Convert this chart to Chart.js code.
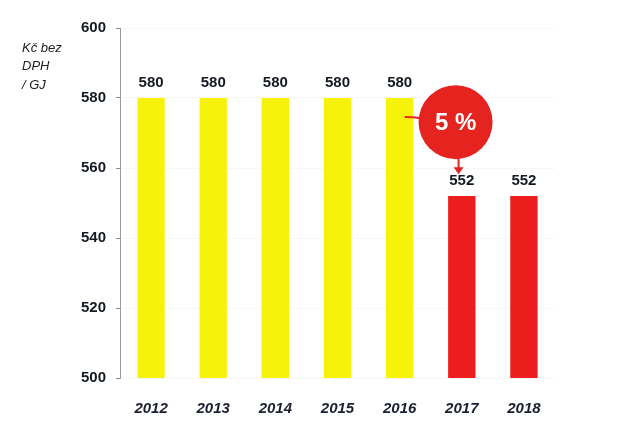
<!DOCTYPE html>
<html>
<head>
<meta charset="utf-8">
<script src="https://cdn.jsdelivr.net/npm/chart.js@4"></script>
<style>
  html, body { margin: 0; padding: 0; background: #fff; }
  .wrap { width: 640px; height: 443px; position: relative; }
</style>
</head>
<body>
<div class="wrap"><canvas id="cena"></canvas></div>
<script>
// data
const years = ['2012', '2013', '2014', '2015', '2016', '2017', '2018'];
const prices = [580, 580, 580, 580, 580, 552, 552];
const barColors = ['#f7f20a', '#f7f20a', '#f7f20a', '#f7f20a', '#f7f20a', '#ec1d1d', '#ec1d1d'];
const yTicks = [500, 520, 540, 560, 580, 600];
const unitLines = ['Kč bez', 'DPH', '/ GJ'];
const dropLabel = '5 %';

// labels above bars + the red "5 %" bubble
const overlay = {
  id: 'overlay',
  afterDatasetsDraw(chart) {
    const ctx = chart.ctx;
    const xs = chart.scales.x, ys = chart.scales.y;
    const meta = chart.getDatasetMeta(0);

    ctx.save();
    ctx.fillStyle = '#141a22';
    ctx.font = 'bold 15px "Liberation Sans", Arial, sans-serif';
    ctx.textAlign = 'center';
    ctx.textBaseline = 'bottom';
    meta.data.forEach((bar, i) => {
      ctx.fillText(String(prices[i]), bar.x, bar.y - 8);
    });

    // unit title
    ctx.fillStyle = '#1c1c1c';
    ctx.font = 'italic 13px "Liberation Sans", Arial, sans-serif';
    ctx.textAlign = 'left';
    ctx.textBaseline = 'middle';
    unitLines.forEach((t, i) => ctx.fillText(t, 22, 48 + i * 18.5));

    // bubble
    const cx = xs.getPixelForValue(4.9);
    const cy = ys.getPixelForValue(573.1);
    const r = 37;
    const red = '#e52420';
    ctx.strokeStyle = red;
    ctx.fillStyle = red;
    ctx.lineWidth = 2;
    // connector from 2016 bar
    const b16 = meta.data[4];
    ctx.beginPath();
    ctx.moveTo(b16.x + 5, ys.getPixelForValue(574.6));
    ctx.quadraticCurveTo(cx - r + 4, ys.getPixelForValue(574.6), cx - r + 2, cy - 2);
    ctx.stroke();
    // arrow down
    const ax = cx + 3;
    ctx.beginPath();
    ctx.moveTo(ax, cy + r - 2);
    ctx.lineTo(ax, cy + r + 12);
    ctx.stroke();
    ctx.beginPath();
    ctx.moveTo(ax - 5, cy + r + 8);
    ctx.lineTo(ax, cy + r + 15);
    ctx.lineTo(ax + 5, cy + r + 8);
    ctx.closePath();
    ctx.fill();

    ctx.beginPath();
    ctx.arc(cx, cy, r, 0, Math.PI * 2);
    ctx.fill();
    ctx.fillStyle = '#fff';
    ctx.font = 'bold 24px "Liberation Sans", Arial, sans-serif';
    ctx.textAlign = 'center';
    ctx.textBaseline = 'middle';
    ctx.fillText(dropLabel, cx, cy + 1);
    ctx.restore();
  }
};

new Chart(document.getElementById('cena'), {
  type: 'bar',
  data: {
    labels: years,
    datasets: [{
      data: prices,
      backgroundColor: barColors,
      borderWidth: 0,
      categoryPercentage: 1,
      barPercentage: 0.44
    }]
  },
  options: {
    responsive: true,
    maintainAspectRatio: false,
    animation: false,
    layout: { padding: { top: 28, bottom: 25, left: 0, right: 85 } },
    plugins: { legend: { display: false }, tooltip: { enabled: false } },
    scales: {
      x: {
        grid: { display: false },
        border: { display: false },
        ticks: {
          color: '#1a2030',
          padding: 14,
          font: { family: '"Liberation Sans", Arial, sans-serif', size: 15, weight: 'bold', style: 'italic' }
        },
        afterFit: s => { s.height = 40; }
      },
      y: {
        min: 500,
        max: 600,
        afterBuildTicks: s => { s.ticks = yTicks.map(v => ({ value: v })); },
        grid: { color: 'rgba(0,0,0,0.03)', tickColor: '#888', tickLength: 4 },
        border: { display: true, color: '#9a9a9a', width: 1 },
        ticks: {
          color: '#141a22',
          padding: 10,
          font: { family: '"Liberation Sans", Arial, sans-serif', size: 15, weight: 'bold' }
        },
        afterFit: s => { s.width = 120; }
      }
    }
  },
  plugins: [overlay]
});
</script>
</body>
</html>
